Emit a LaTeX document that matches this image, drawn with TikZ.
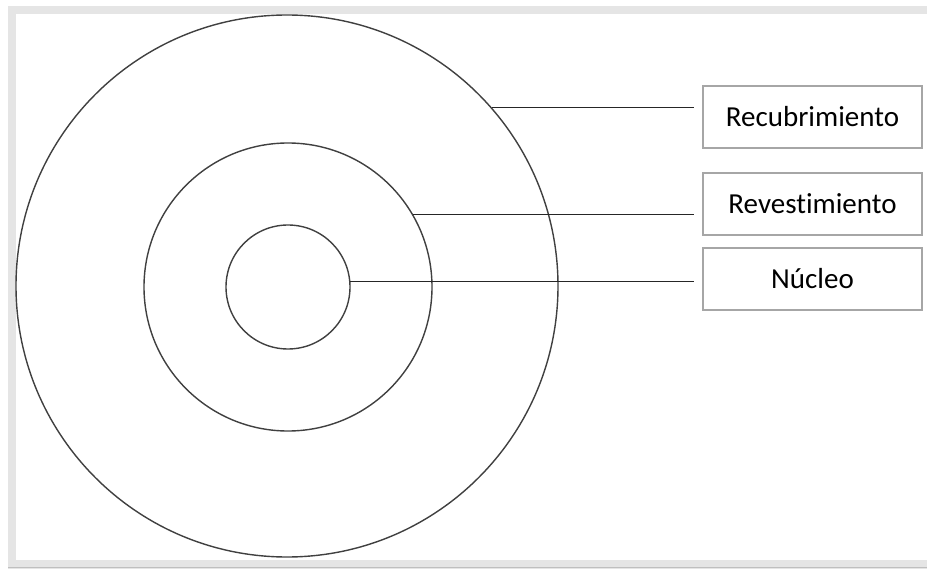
\documentclass[tikz,border=0pt]{standalone}
\usepackage{fontspec}
\setmainfont[Ligatures={NoCommon}]{Carlito}
\begin{document}
\begin{tikzpicture}[x=1pt,y=-1pt,
  ring/.style={circle,draw=black!75,line width=1.4pt,inner sep=0pt},
  label box/.style={draw=black!35,line width=1.3pt,minimum width=219pt,minimum height=62pt,inner sep=0pt,font=\fontsize{29}{34}\selectfont},
  lead/.style={draw=black!85,line width=1.5pt}]
\useasboundingbox (0,0) rectangle (927,569);
% frame
\fill[black!10] (8,6) rectangle (927,569);
\fill[white] (16,14.5) rectangle (927,560);
\draw[black!25,line width=1pt] (8,567.5) -- (927,567.5);
% circles
\node[ring,minimum size=542pt] (outer) at (287,286) {};
\node[ring,minimum size=288pt] (mid) at (288,287) {};
\node[ring,minimum size=124pt] (core) at (288,287) {};
% boxes
\node[label box] (recub) at (812.5,117) {Recubrimiento};
\node[label box] (revest) at (812.5,204) {Revestimiento};
\node[label box] (nucleo) at (812.5,279) {Núcleo};
% line end points
\coordinate (e1) at (694,106);
\coordinate (e2) at (694,214);
\coordinate (e3) at (694,281);
\draw[lead] (outer.41.7) -- (outer.41.7 -| e1);
\draw[lead] (mid.30.3) -- (mid.30.3 -| e2);
\draw[lead] (core.5.4) -- (core.5.4 -| e3);
\end{tikzpicture}
\end{document}
